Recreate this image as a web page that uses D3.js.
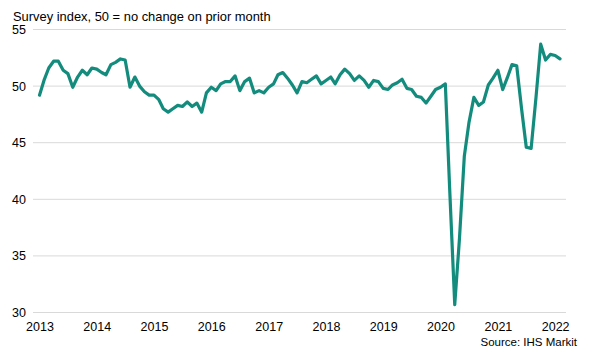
<!DOCTYPE html>
<html>
<head>
<meta charset="utf-8">
<script src="https://cdn.jsdelivr.net/npm/d3@7"></script>
<style>
  html, body { margin: 0; padding: 0; background: #fff; }
  svg { display: block; font-family: "Liberation Sans", Arial, sans-serif; }
</style>
</head>
<body>
<svg id="chart" width="589" height="360"></svg>
<script>
// ---- data ----
const startMonth = "2013-01";
const values = [
  49.2, 50.6, 51.6, 52.2, 52.2, 51.4, 51.1, 49.9, 50.8, 51.4, 51.0, 51.6,
  51.5, 51.2, 51.0, 51.9, 52.1, 52.4, 52.3, 49.9, 50.8, 50.0, 49.5, 49.2,
  49.2, 48.8, 48.0, 47.7, 48.0, 48.3, 48.2, 48.6, 48.2, 48.5, 47.7, 49.4,
  49.9, 49.6, 50.2, 50.4, 50.4, 50.9, 49.6, 50.4, 50.7, 49.4, 49.6, 49.4,
  49.9, 50.2, 51.0, 51.2, 50.7, 50.1, 49.4, 50.4, 50.3, 50.6, 50.9, 50.2,
  50.5, 50.8, 50.2, 51.0, 51.5, 51.1, 50.5, 50.9, 50.5, 49.9, 50.5, 50.4,
  49.8, 49.7, 50.1, 50.3, 50.6, 49.8, 49.7, 49.1, 49.0, 48.5, 49.1, 49.7,
  49.9, 50.2, 40.5, 30.7, 36.5, 43.8, 46.8, 49.0, 48.3, 48.6, 50.1, 50.7,
  51.4, 49.7, 50.7, 51.9, 51.8, 48.0, 44.6, 44.5, 49.0, 53.7, 52.3, 52.8,
  52.7, 52.4
];
const yTicks = [30, 35, 40, 45, 50, 55];
const yearLabels = ["2013","2014","2015","2016","2017","2018","2019","2020","2021","2022"];
const titleText = "Survey index, 50 = no change on prior month";
const sourceText = "Source: IHS Markit";

// ---- build ----
const parse = d3.timeParse("%Y-%m");
const t0 = parse(startMonth);
const data = values.map((v, i) => ({ date: d3.timeMonth.offset(t0, i), value: v }));

const svg = d3.select("#chart");
const x = d3.scaleTime()
  .domain([data[0].date, data[data.length - 1].date])
  .range([39.5, 560]);
const y = d3.scaleLinear().domain([30, 55]).range([312.5, 29.5]);

// gridlines
svg.append("g")
  .selectAll("line")
  .data(yTicks)
  .join("line")
  .attr("x1", 33).attr("x2", 566)
  .attr("y1", d => y(d)).attr("y2", d => y(d))
  .attr("stroke", "#d9d9d9").attr("stroke-width", 1);

// y labels
svg.append("g")
  .selectAll("text")
  .data(yTicks)
  .join("text")
  .attr("x", 26).attr("y", d => y(d))
  .attr("dy", "0.36em")
  .attr("text-anchor", "end")
  .attr("font-size", 12.5)
  .attr("fill", "#000")
  .text(d => d);

// x axis labels
const xAxis = d3.axisBottom(x)
  .tickValues(yearLabels.map(s => d3.timeParse("%Y")(s)))
  .tickFormat(d3.timeFormat("%Y"))
  .tickSize(0)
  .tickPadding(0);
const gx = svg.append("g").attr("transform", "translate(0,322)").call(xAxis);
gx.select(".domain").remove();
gx.selectAll("text").attr("font-size", 12.5).attr("fill", "#000")
  .attr("font-family", "Liberation Sans, Arial, sans-serif");

// line
const line = d3.line().x(d => x(d.date)).y(d => y(d.value));
svg.append("path")
  .datum(data)
  .attr("d", line)
  .attr("fill", "none")
  .attr("stroke", "#138c7e")
  .attr("stroke-width", 3.2)
  .attr("stroke-linejoin", "round")
  .attr("stroke-linecap", "round");

// title
svg.append("text")
  .attr("x", 13).attr("y", 21)
  .attr("font-size", 12.9).attr("fill", "#000")
  .text(titleText);

// source
svg.append("text")
  .attr("x", 577).attr("y", 346)
  .attr("text-anchor", "end")
  .attr("font-size", 11.5).attr("fill", "#000")
  .text(sourceText);
</script>
</body>
</html>
